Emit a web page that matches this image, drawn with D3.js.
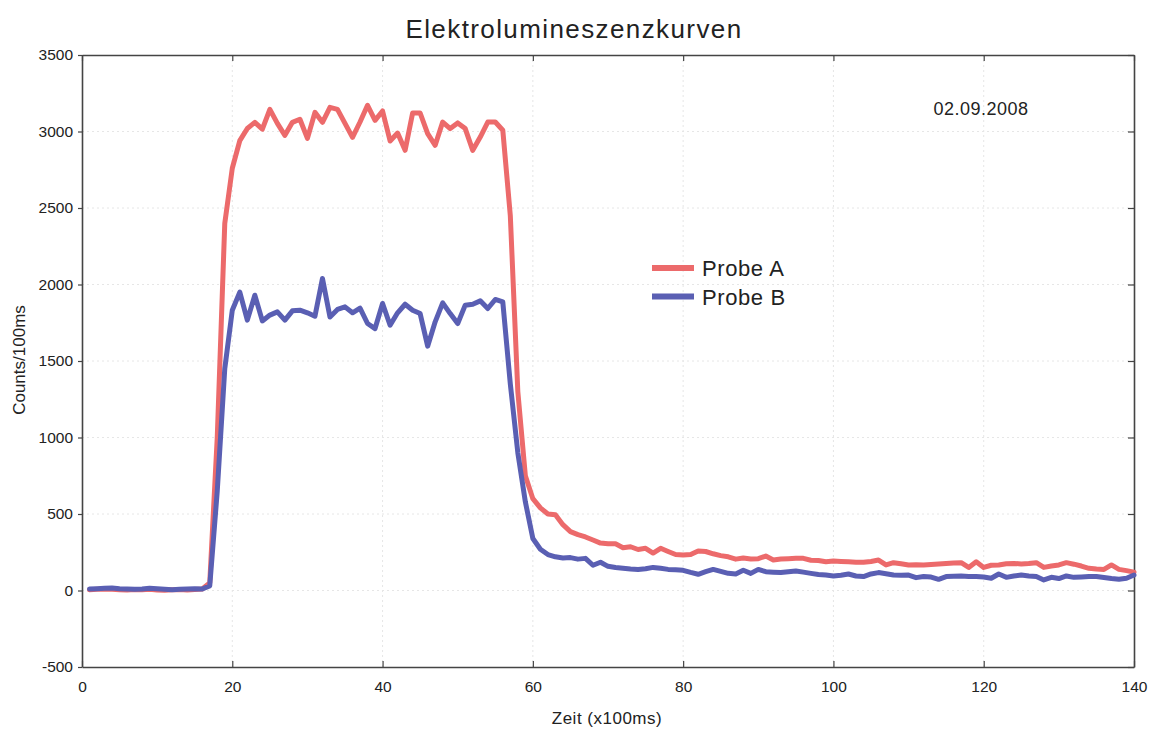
<!DOCTYPE html>
<html>
<head>
<meta charset="utf-8">
<script src="https://cdn.jsdelivr.net/npm/d3@7"></script>
<style>
  body { margin: 0; background: #fff; }
  text { font-family: "Liberation Sans", Arial, sans-serif; fill: #222; }
</style>
</head>
<body>
<div id="chart"></div>
<script>
// time steps (x100ms)
var zeit = d3.range(1, 141);

// Probe A counts per 100ms
var probeA = [
  5, 8, 10, 8, 5, 3, 6, 5, 8, 4,
  2, 5, 6, 4, 7, 10, 50, 1000, 2400, 2760,
  2940, 3020, 3060, 3015, 3145, 3053, 2975, 3060, 3080, 2955,
  3125, 3060, 3158, 3145, 3053, 2962, 3062, 3171, 3073, 3134,
  2938, 2990, 2877, 3121, 3121, 2986, 2910, 3062, 3019, 3056,
  3019, 2877, 2964, 3062, 3062, 3008, 2450, 1300, 750, 600,
  540, 500, 495, 430, 385, 365, 350, 330, 310, 305,
  305, 280, 286, 268, 276, 245, 276, 255, 235, 232,
  235, 258, 255, 240, 228, 220, 205, 212, 206, 208,
  225, 200, 206, 208, 210, 210, 198, 196, 188, 193,
  190, 188, 185, 184, 190, 199, 167, 182, 175, 167,
  168, 167, 170, 173, 176, 180, 182, 151, 188, 151,
  165, 167, 175, 177, 173, 176, 182, 151, 160, 167,
  182, 172, 160, 145, 140, 138, 167, 138, 130, 120
];

// Probe B counts per 100ms
var probeB = [
  10, 12, 14, 16, 12, 10, 8, 10, 15, 12,
  8, 5, 8, 10, 12, 10, 30, 650, 1450, 1832,
  1950, 1767, 1930, 1762, 1800, 1821, 1767, 1828, 1832, 1815,
  1793, 2039, 1788, 1837, 1854, 1815, 1845, 1745, 1712, 1876,
  1734, 1815, 1871, 1832, 1810, 1597, 1756, 1880, 1810, 1745,
  1865, 1871, 1893, 1843, 1902, 1886, 1350, 900, 580, 340,
  270, 235, 220, 212, 215, 205, 210, 165, 185, 158,
  150, 145, 140, 138, 142, 151, 145, 138, 135, 132,
  118, 106, 123, 138, 125, 112, 108, 132, 112, 138,
  123, 120, 117, 122, 128, 120, 112, 105, 101, 95,
  100, 108, 95, 91, 108, 117, 110, 101, 100, 101,
  84, 91, 88, 73, 91, 93, 95, 92, 91, 88,
  80, 108, 86, 95, 101, 95, 91, 69, 86, 78,
  95, 86, 88, 91, 91, 85, 78, 73, 80, 101
];

var xTicks = [0, 20, 40, 60, 80, 100, 120, 140];
var yTicks = [-500, 0, 500, 1000, 1500, 2000, 2500, 3000, 3500];
var seriesNames = ["Probe A", "Probe B"];
var seriesColors = ["#ec6a6b", "#5a5fb3"];

var svgWidth = 1156;
var svgHeight = 729;
var margin = { top: 55, right: 22, bottom: 62, left: 82 };
var width = svgWidth - margin.left - margin.right;
var height = svgHeight - margin.top - margin.bottom;

var svg = d3.select("#chart")
  .append("svg")
  .attr("width", svgWidth)
  .attr("height", svgHeight);

var chartGroup = svg.append("g")
  .attr("transform", `translate(${margin.left}, ${margin.top})`);

var xScale = d3.scaleLinear().domain([0, 140]).range([0, width]);
var yScale = d3.scaleLinear().domain([-500, 3500]).range([height, 0]);

// plain integer labels, ASCII minus like the scan
var plainFormat = d => String(d);

// faint dotted grid
chartGroup.append("g")
  .selectAll("line.vgrid")
  .data(xTicks.slice(1, -1))
  .enter()
  .append("line")
  .attr("x1", d => xScale(d)).attr("x2", d => xScale(d))
  .attr("y1", 0).attr("y2", height)
  .attr("stroke", "#e6e6e6")
  .attr("stroke-dasharray", "2,3");

chartGroup.append("g")
  .selectAll("line.hgrid")
  .data(yTicks.slice(1, -1))
  .enter()
  .append("line")
  .attr("x1", 0).attr("x2", width)
  .attr("y1", d => yScale(d)).attr("y2", d => yScale(d))
  .attr("stroke", "#e6e6e6")
  .attr("stroke-dasharray", "2,3");

// axes
var bottomAxis = d3.axisBottom(xScale).tickValues(xTicks).tickFormat(plainFormat)
  .tickSizeInner(-6).tickSizeOuter(0).tickPadding(14);
var leftAxis = d3.axisLeft(yScale).tickValues(yTicks).tickFormat(plainFormat)
  .tickSizeInner(4).tickSizeOuter(0).tickPadding(5);
var topAxis = d3.axisTop(xScale).tickValues(xTicks).tickSizeInner(-6).tickSizeOuter(0).tickFormat("");
var rightAxis = d3.axisRight(yScale).tickValues(yTicks).tickSizeInner(-6).tickSizeOuter(0).tickFormat("");

var gx = chartGroup.append("g")
  .attr("transform", `translate(0, ${height})`)
  .call(bottomAxis);
var gy = chartGroup.append("g").call(leftAxis);
var gt = chartGroup.append("g").call(topAxis);
var gr = chartGroup.append("g")
  .attr("transform", `translate(${width}, 0)`)
  .call(rightAxis);

[gx, gy, gt, gr].forEach(function(g) {
  g.select(".domain").attr("stroke", "#444").attr("stroke-width", 1.6);
  g.selectAll(".tick line").attr("stroke", "#444").attr("stroke-width", 1.2);
  g.selectAll(".tick text")
    .attr("fill", "#333")
    .style("font-family", "'Liberation Sans', Arial, sans-serif")
    .style("font-size", "15.5px");
});

// lines
var line = d3.line()
  .x((d, i) => xScale(zeit[i]))
  .y(d => yScale(d));

[probeA, probeB].forEach(function(series, i) {
  chartGroup.append("path")
    .datum(series)
    .attr("fill", "none")
    .attr("stroke", seriesColors[i])
    .attr("stroke-width", 5)
    .attr("stroke-linejoin", "round")
    .attr("stroke-linecap", "round")
    .attr("d", line);
});

// legend
var legend = svg.append("g")
  .attr("transform", "translate(652, 268)");

seriesNames.forEach(function(name, i) {
  legend.append("line")
    .attr("x1", 0).attr("x2", 42)
    .attr("y1", i * 28.5).attr("y2", i * 28.5)
    .attr("stroke", seriesColors[i])
    .attr("stroke-width", 6);
  legend.append("text")
    .attr("x", 50)
    .attr("y", i * 28.5 + 8)
    .style("font-size", "22px")
    .style("letter-spacing", "0.6px")
    .text(name);
});

// title, date, axis labels
svg.append("text")
  .attr("x", 574)
  .attr("y", 38)
  .attr("text-anchor", "middle")
  .style("font-size", "26px")
  .style("letter-spacing", "1.4px")
  .text("Elektrolumineszenzkurven");

svg.append("text")
  .attr("x", 981)
  .attr("y", 115)
  .attr("text-anchor", "middle")
  .style("font-size", "18px")
  .style("letter-spacing", "0.5px")
  .text("02.09.2008");

svg.append("text")
  .attr("transform", "rotate(-90)")
  .attr("x", -360)
  .attr("y", 25)
  .attr("text-anchor", "middle")
  .style("font-size", "17px")
  .text("Counts/100ms");

svg.append("text")
  .attr("x", 607)
  .attr("y", 724)
  .attr("text-anchor", "middle")
  .style("font-size", "17px")
  .style("letter-spacing", "0.5px")
  .text("Zeit (x100ms)");
</script>
</body>
</html>
